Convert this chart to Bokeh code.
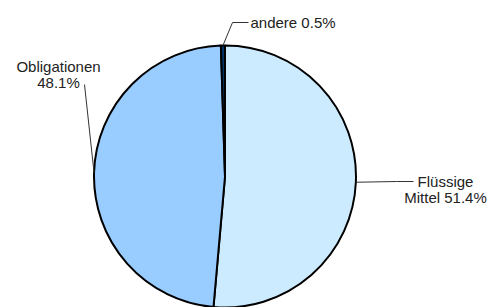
import math
from bokeh.plotting import figure
from bokeh.models import Range1d, ColumnDataSource
from bokeh.core.properties import value
from bokeh.embed import file_html
from bokeh.resources import INLINE

# ---- data ----
categories = ["Flüssige Mittel", "Obligationen", "andere"]
shares = [51.4, 48.1, 0.5]
colors = ["#CCEBFF", "#99CCFF", "#003366"]
words_on_first_line = [1, 1, 2]   # how the labels wrap

# ---- layout (pixel coordinates of the picture) ----
W, H = 489, 307
def sy(y):  # picture y -> data y
    return H - y

cx, cy, R = 224.5, sy(176), 131
label_layout = [
    dict(x=445, align="center", y0=181, elbow=(396, 181), end=(413, 181)),
    dict(x=58, align="center", y0=66, elbow=(84, 84), end=(84, 84)),
    dict(x=250, align="left", y0=22, elbow=(232, 22), end=(248, 22)),
]
LINE_H = 16

p = figure(width=W, height=H, output_backend="svg", toolbar_location=None,
           x_range=Range1d(0, W), y_range=Range1d(0, H),
           x_axis_location=None, y_axis_location=None,
           min_border=0, min_border_left=0, min_border_right=0,
           min_border_top=0, min_border_bottom=0)
p.outline_line_color = None
p.grid.visible = False
p.background_fill_color = "white"
p.border_fill_color = "white"

total = sum(shares)
starts, ends, mids = [], [], []
cum = 0.0
for s in shares:
    f0 = cum / total
    cum += s
    f1 = cum / total
    starts.append(math.pi / 2 - 2 * math.pi * f0)
    ends.append(math.pi / 2 - 2 * math.pi * f1)
    mids.append(math.pi / 2 - 2 * math.pi * (f0 + f1) / 2)

src = ColumnDataSource(dict(x=[cx] * len(shares), y=[cy] * len(shares),
                            start=starts, end=ends, color=colors))
p.wedge(x="x", y="y", radius=R, start_angle="start", end_angle="end",
        direction="clock", fill_color="color", line_color="black",
        line_width=2, source=src)

tx, ty, ttext, talign = [], [], [], []
for cat, s, mid, lay, nw in zip(categories, shares, mids, label_layout, words_on_first_line):
    ex, ey = cx + R * math.cos(mid), cy + R * math.sin(mid)
    xs = [ex, lay["elbow"][0], lay["end"][0]]
    ys = [ey, sy(lay["elbow"][1]), sy(lay["end"][1])]
    p.line(xs, ys, line_color="#333333", line_width=1)
    words = f"{cat} {s}%".split(" ")
    lines = [" ".join(words[:nw])]
    if words[nw:]:
        lines.append(" ".join(words[nw:]))
    for i, ln in enumerate(lines):
        tx.append(lay["x"])
        ty.append(sy(lay["y0"] + i * LINE_H))
        ttext.append(ln)
        talign.append(lay["align"])

tsrc = ColumnDataSource(dict(x=tx, y=ty, text=ttext, align=talign))
p.text(x="x", y="y", text="text", text_align="align", text_baseline="alphabetic",
       text_font=value("Liberation Sans"), text_font_size="15px",
       text_color="#222222", source=tsrc)

open("out.html", "w").write(file_html(p, INLINE))
